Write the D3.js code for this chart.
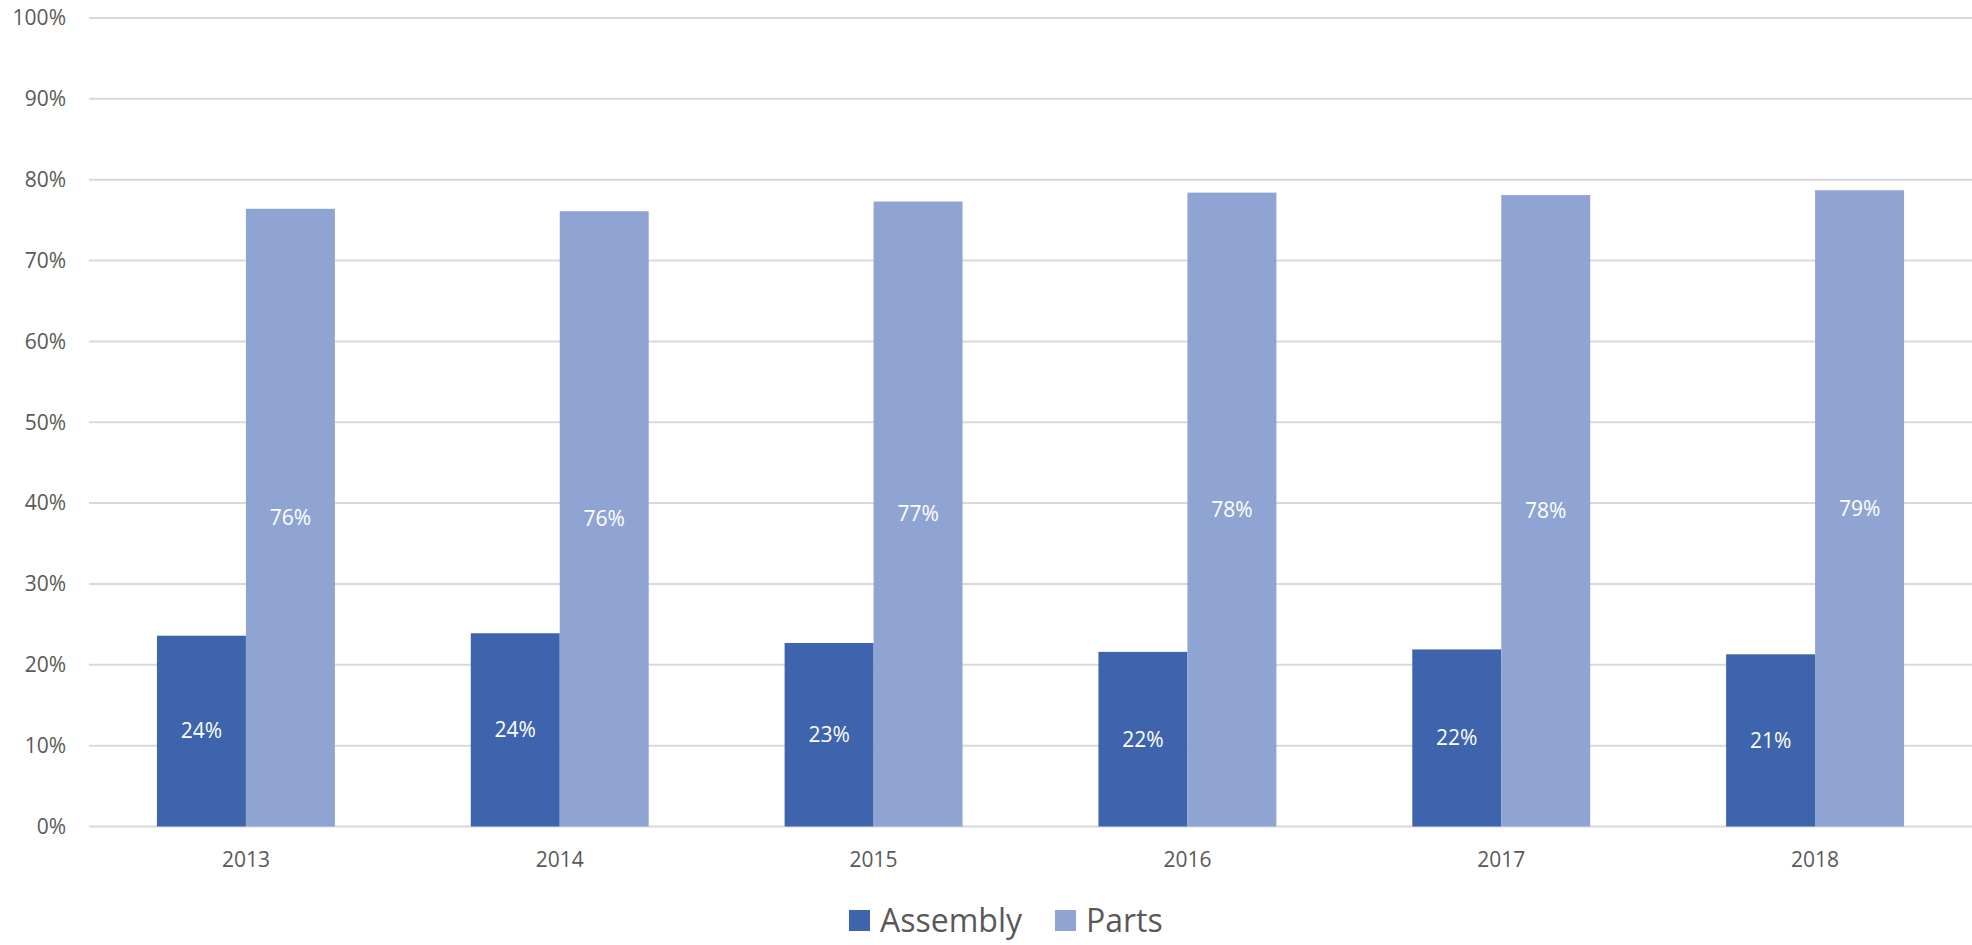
<!DOCTYPE html>
<html>
<head>
<meta charset="utf-8">
<script src="https://cdn.jsdelivr.net/npm/d3@7"></script>
<style>
  body { margin: 0; background: #fff; }
  svg text { font-family: "Open Sans", "Segoe UI", sans-serif; }
</style>
</head>
<body>
<div id="chart"></div>
<script>
const years = ["2013", "2014", "2015", "2016", "2017", "2018"];
const seriesNames = ["Assembly", "Parts"];
const assembly = [23.6, 23.9, 22.7, 21.6, 21.9, 21.3];
const parts = [76.4, 76.1, 77.3, 78.4, 78.1, 78.7];
const yTicks = [0, 10, 20, 30, 40, 50, 60, 70, 80, 90, 100];
const colors = ["#3d64ac", "#90a4d4"];

const width = 1972, height = 945;
const margin = {top: 18, right: 0, bottom: 118, left: 89};

const svg = d3.select("#chart").append("svg")
    .attr("width", width)
    .attr("height", height);

const x = d3.scaleBand()
    .domain(years)
    .range([margin.left, width - margin.right])
    .paddingInner(0.433)
    .paddingOuter(0.2165);

const xSub = d3.scaleBand()
    .domain(seriesNames)
    .range([0, x.bandwidth()]);

const y = d3.scaleLinear()
    .domain([0, 100])
    .range([height - margin.bottom - 0.5, margin.top]);

const color = d3.scaleOrdinal().domain(seriesNames).range(colors);

// gridlines
svg.append("g")
    .selectAll("line")
    .data(yTicks)
    .enter()
        .append("line")
        .attr("x1", margin.left)
        .attr("x2", width)
        .attr("y1", d => y(d))
        .attr("y2", d => y(d))
        .attr("stroke", "#d9d9d9")
        .attr("stroke-width", 2);

// y labels
svg.append("g")
    .selectAll("text")
    .data(yTicks)
    .enter()
        .append("text")
        .attr("x", 66)
        .attr("y", d => y(d))
        .attr("dy", "0.35em")
        .attr("text-anchor", "end")
        .attr("font-size", 21)
        .attr("fill", "#595959")
        .text(d => `${d}%`);

// x labels
svg.append("g")
    .selectAll("text")
    .data(years)
    .enter()
        .append("text")
        .attr("x", d => x(d) + x.bandwidth() / 2)
        .attr("y", 867)
        .attr("text-anchor", "middle")
        .attr("font-size", 21)
        .attr("fill", "#595959")
        .text(d => d);

const rows = years.map((yr, i) => ({
    year: yr,
    values: [
        {name: "Assembly", value: assembly[i]},
        {name: "Parts", value: parts[i]}
    ]
}));

const groups = svg.append("g")
    .selectAll("g")
    .data(rows)
    .enter()
        .append("g")
        .attr("transform", d => `translate(${x(d.year)},0)`);

groups.selectAll("rect")
    .data(d => d.values)
    .enter()
        .append("rect")
        .attr("x", d => xSub(d.name))
        .attr("y", d => y(d.value))
        .attr("width", xSub.bandwidth())
        .attr("height", d => y(0) - y(d.value))
        .attr("fill", d => color(d.name));

groups.selectAll("text")
    .data(d => d.values)
    .enter()
        .append("text")
        .attr("x", d => xSub(d.name) + xSub.bandwidth() / 2)
        .attr("y", d => (y(d.value) + y(0)) / 2)
        .attr("dy", "0.35em")
        .attr("text-anchor", "middle")
        .attr("font-size", 21)
        .attr("fill", "#fff")
        .text(d => `${Math.round(d.value)}%`);

// legend
const legendItems = [
    {name: "Assembly", x: 849},
    {name: "Parts", x: 1055}
];
const legend = svg.append("g")
    .selectAll("g")
    .data(legendItems)
    .enter()
        .append("g")
        .attr("transform", d => `translate(${d.x},910)`);

legend.append("rect")
    .attr("width", 21)
    .attr("height", 21)
    .attr("fill", d => color(d.name));

legend.append("text")
    .attr("x", 31)
    .attr("y", 21.5)
    .attr("font-size", 32)
    .attr("fill", "#595959")
    .text(d => d.name);
</script>
</body>
</html>
